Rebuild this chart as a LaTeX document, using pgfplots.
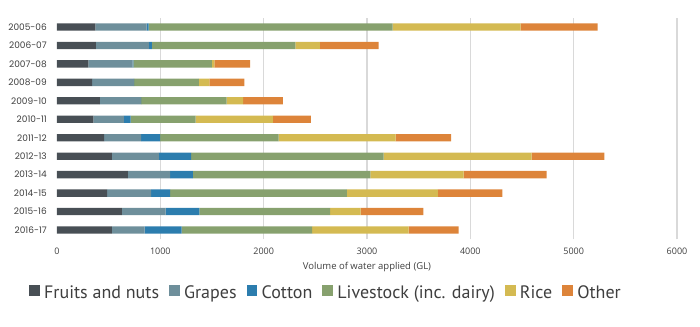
\documentclass[border=0pt]{standalone}
\usepackage{fontspec}
\usepackage{pgfplots}
\pgfplotsset{compat=1.18}
\setmainfont{Open Sans}
\newfontfamily\yfont{Poppins}
\newfontfamily\legfont{PT Sans}
\definecolor{cFruit}{HTML}{484F55}
\definecolor{cGrape}{HTML}{6E8F9B}
\definecolor{cCotton}{HTML}{2C7DAE}
\definecolor{cLive}{HTML}{87A16E}
\definecolor{cRice}{HTML}{D4BA52}
\definecolor{cOther}{HTML}{DD843A}
\definecolor{cGrid}{HTML}{D9D9D9}
\definecolor{cText}{HTML}{3F3F3F}
\begin{document}
\begin{tikzpicture}
\begin{axis}[
  name=ax,
  scale only axis,
  width=620bp, height=221.5bp,
  xbar stacked,
  bar width=7.3bp,
  xmin=0, xmax=6000,
  ymin=-0.5, ymax=11.5,
  ytick={0,...,11},
  yticklabels={2016-17,2015-16,2014-15,2013-14,2012-13,2011-12,2010-11,2009-10,2008-09,2007-08,2006-07,2005-06},
  yticklabel style={font=\yfont\fontsize{9bp}{10bp}\selectfont, text=cText, inner sep=0pt, anchor=east, xshift=-10bp},
  xtick={1000,2000,3000,4000,5000,6000},
  extra x ticks={0},
  extra x tick style={grid=none},
  xticklabel style={font=\fontsize{9bp}{10bp}\selectfont, text=cText, inner sep=0pt, anchor=north, yshift=-9bp},
  /pgf/number format/assume math mode=true,
  /pgf/number format/1000 sep={},
  xmajorgrids,
  major grid style={cGrid, line width=1.2bp},
  axis line style={draw=none},
  major tick length=0pt,
  tick style={draw=none},
  xlabel={Volume of water applied (GL)},
  xlabel style={font=\fontsize{9.5bp}{11bp}\selectfont, text=cText, inner sep=0pt, at={(axis description cs:0.5,0)}, anchor=north, yshift=-23bp},
  legend columns=6,
  legend style={draw=none, fill=none, inner sep=0pt, at={(axis description cs:-0.0452,-0.2404)}, anchor=west,
    font=\legfont\fontsize{18bp}{20bp}\selectfont, text=cText,
    /tikz/every even column/.append style={column sep=10bp},
    nodes={inner sep=0pt, text=cText}},
  legend image code/.code={\fill[#1] (0bp,-3.2bp) rectangle (10.7bp,7.5bp); \path (15bp,0) ;},
  every axis plot/.append style={draw=none},
]
\addplot+[fill=cFruit] coordinates {(371,11) (377,10) (303,9) (339,8) (416,7) (352,6) (455,5) (532,4) (687,3) (484,2) (629,1) (532,0)};
\addplot+[fill=cGrape] coordinates {(497,11) (513,10) (429,9) (406,8) (397,7) (296,6) (358,5) (455,4) (407,3) (426,2) (423,1) (317,0)};
\addplot+[fill=cCotton] coordinates {(19,11) (29,10) (7,9) (2,8) (2,7) (65,6) (184,5) (310,4) (222,3) (184,2) (325,1) (358,0)};
\addplot+[fill=cLive] coordinates {(2362,11) (1387,10) (761,9) (627,8) (826,7) (629,6) (1148,5) (1864,4) (1716,3) (1712,2) (1265,1) (1261,0)};
\addplot+[fill=cRice] coordinates {(1238,11) (239,10) (23,9) (100,8) (161,7) (748,6) (1132,5) (1432,4) (903,3) (881,2) (297,1) (935,0)};
\addplot+[fill=cOther] coordinates {(746,11) (568,10) (345,9) (339,8) (384,7) (368,6) (536,5) (704,4) (804,3) (623,2) (606,1) (484,0)};
\legend{Fruits and nuts, Grapes, Cotton, Livestock (inc. dairy), Rice, Other}
\end{axis}
\path[use as bounding box] ([xshift=-57bp,yshift=-87.75bp]ax.south west) rectangle ([xshift=23bp,yshift=17.75bp]ax.north east);
\end{tikzpicture}
\end{document}
